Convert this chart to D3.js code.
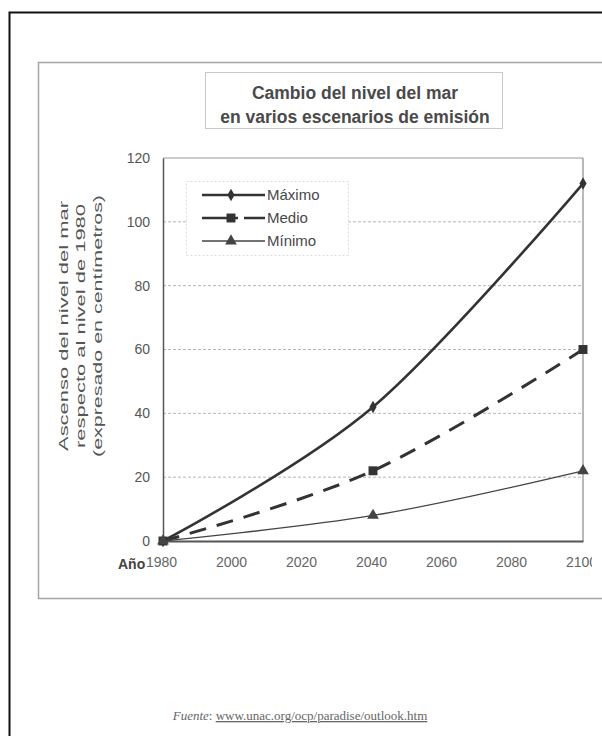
<!DOCTYPE html>
<html>
<head>
<meta charset="utf-8">
<script src="https://cdn.jsdelivr.net/npm/d3@7"></script>
<style>
  html, body { margin: 0; padding: 0; background: #fff; }
  svg { display: block; }
</style>
</head>
<body>
<script>
// ---- data ----
const years = [1980, 2040, 2100];
const maximo = [0, 42, 112];
const medio = [0, 22, 60];
const minimo = [0, 8, 22];
const seriesNames = ["Máximo", "Medio", "Mínimo"];
const xTicks = [1980, 2000, 2020, 2040, 2060, 2080, 2100];
const yTicks = [0, 20, 40, 60, 80, 100, 120];
const titleLines = ["Cambio del nivel del mar", "en varios escenarios de emisión"];
const yLabelLines = ["Ascenso del nivel del mar", "respecto al nivel de 1980", "(expresado en centímetros)"];
const xAxisName = "Año";
const sourceLabel = "Fuente";
const sourceUrl = "www.unac.org/ocp/paradise/outlook.htm";

const W = 602, H = 736;
const svg = d3.select("body").append("svg").attr("width", W).attr("height", H);
const sans = "'Liberation Sans', Arial, sans-serif";

// outer page border
svg.append("rect").attr("x", 9.5).attr("y", 12.5).attr("width", 620).attr("height", 740)
  .attr("fill", "none").attr("stroke", "#111").attr("stroke-width", 2);

// chart frame
svg.append("rect").attr("x", 38.5).attr("y", 62.5).attr("width", 600).attr("height", 536)
  .attr("fill", "none").attr("stroke", "#a5a5a5").attr("stroke-width", 1.5);

// title box
svg.append("rect").attr("x", 205.5).attr("y", 72.5).attr("width", 297).attr("height", 56)
  .attr("fill", "none").attr("stroke", "#c8c8c8").attr("stroke-width", 1);
svg.append("g").selectAll("text").data(titleLines).join("text")
  .attr("x", 355).attr("y", (d, i) => 99 + i * 24)
  .attr("text-anchor", "middle").attr("font-family", sans).attr("font-weight", "bold")
  .attr("font-size", 17.5).attr("fill", "#4a4a4a").text(d => d);

// scales
const x = d3.scaleLinear().domain([1980, 2100]).range([163, 583]);
const y = d3.scaleLinear().domain([0, 120]).range([541, 158]);

// gridlines
svg.append("g").selectAll("line").data(yTicks.filter(v => v > 0 && v < 120)).join("line")
  .attr("x1", x(1980)).attr("x2", x(2100)).attr("y1", d => y(d)).attr("y2", d => y(d))
  .attr("stroke", "#b5b5b5").attr("stroke-width", 1).attr("stroke-dasharray", "3,2");

// plot border
svg.append("line").attr("x1", x(1980)).attr("x2", x(2100)).attr("y1", y(120)).attr("y2", y(120))
  .attr("stroke", "#9a9a9a").attr("stroke-width", 1.2);
svg.append("line").attr("x1", x(2100)).attr("x2", x(2100)).attr("y1", y(120)).attr("y2", y(0))
  .attr("stroke", "#8a8a8a").attr("stroke-width", 1.2);

// axes
const yAxis = d3.axisLeft(y).tickValues(yTicks).tickSize(0).tickPadding(13);
const gy = svg.append("g").attr("transform", `translate(${x(1980)},0)`).call(yAxis);
gy.select(".domain").attr("stroke", "#555").attr("stroke-width", 1.5);
gy.selectAll("text").attr("font-family", sans).attr("font-size", 14).attr("fill", "#555");

const clip = svg.append("clipPath").attr("id", "pageclip");
clip.append("rect").attr("x", 0).attr("y", 0).attr("width", 592).attr("height", H);

const xAxis = d3.axisBottom(x).tickValues(xTicks).tickFormat(d3.format("d")).tickSize(0).tickPadding(16);
const gx = svg.append("g").attr("clip-path", "url(#pageclip)").append("g")
  .attr("transform", `translate(0,${y(0)})`).call(xAxis);
gx.select(".domain").attr("stroke", "#555").attr("stroke-width", 2);
gx.selectAll("text").attr("font-family", sans).attr("font-size", 14).attr("fill", "#666")
  .attr("dx", -2);

svg.append("text").attr("x", 118).attr("y", y(0) + 28).attr("font-family", sans)
  .attr("font-weight", "bold").attr("font-size", 14).attr("fill", "#444").text(xAxisName);

// y label
svg.append("g").selectAll("text").data(yLabelLines).join("text")
  .attr("transform", (d, i) => `translate(${68 + i * 17},326) rotate(-90)`)
  .attr("text-anchor", "middle").attr("font-family", sans).attr("font-size", 13.5)
  .attr("textLength", (d, i) => [250, 244, 262][i]).attr("lengthAdjust", "spacingAndGlyphs")
  .attr("fill", "#555").text(d => d);

// series
const series = [
  { name: seriesNames[0], values: maximo, width: 2.6, dash: null, marker: "diamond", color: "#333" },
  { name: seriesNames[1], values: medio, width: 3, dash: "17,11", marker: "square", color: "#333" },
  { name: seriesNames[2], values: minimo, width: 1.3, dash: null, marker: "triangle", color: "#444" }
];
const line = d3.line().x(d => x(d[0])).y(d => y(d[1])).curve(d3.curveCardinal.tension(0));

const symbolFor = {
  diamond: d3.symbol().type(d3.symbolDiamond).size(45),
  square: d3.symbol().type(d3.symbolSquare).size(80),
  triangle: d3.symbol().type(d3.symbolTriangle).size(60)
};

series.forEach(s => {
  const pts = years.map((yr, i) => [yr, s.values[i]]);
  svg.append("path").attr("d", line(pts)).attr("fill", "none")
    .attr("stroke", s.color).attr("stroke-width", s.width)
    .attr("stroke-dasharray", s.dash);
  svg.append("g").selectAll("path").data(pts).join("path")
    .attr("transform", d => `translate(${x(d[0])},${y(d[1])})`)
    .attr("d", symbolFor[s.marker]()).attr("fill", s.color);
});

// legend
const lg = svg.append("g");
lg.append("rect").attr("x", 186.5).attr("y", 181.5).attr("width", 162).attr("height", 74)
  .attr("fill", "#fff").attr("stroke", "#dcdcdc").attr("stroke-width", 1).attr("stroke-dasharray", "2,2");
series.forEach((s, i) => {
  const ly = 195 + i * 23;
  lg.append("line").attr("x1", 202).attr("x2", 265).attr("y1", ly).attr("y2", ly)
    .attr("stroke", s.color).attr("stroke-width", s.width === 3 ? 2.6 : s.width)
    .attr("stroke-dasharray", s.dash ? "36,6,40" : null);
  lg.append("path").attr("transform", `translate(231,${ly})`).attr("d", symbolFor[s.marker]())
    .attr("fill", s.color);
  lg.append("text").attr("x", 267).attr("y", ly + 5).attr("font-family", sans)
    .attr("font-size", 15).attr("fill", "#484848").text(s.name);
});

// source
const src = svg.append("text").attr("x", 300).attr("y", 720).attr("text-anchor", "middle")
  .attr("font-family", "'Liberation Serif', 'Times New Roman', serif").attr("font-size", 13)
  .attr("fill", "#666");
src.append("tspan").attr("font-style", "italic").text(sourceLabel);
src.append("tspan").text(": ");
src.append("tspan").attr("text-decoration", "underline").text(sourceUrl);
</script>
</body>
</html>
